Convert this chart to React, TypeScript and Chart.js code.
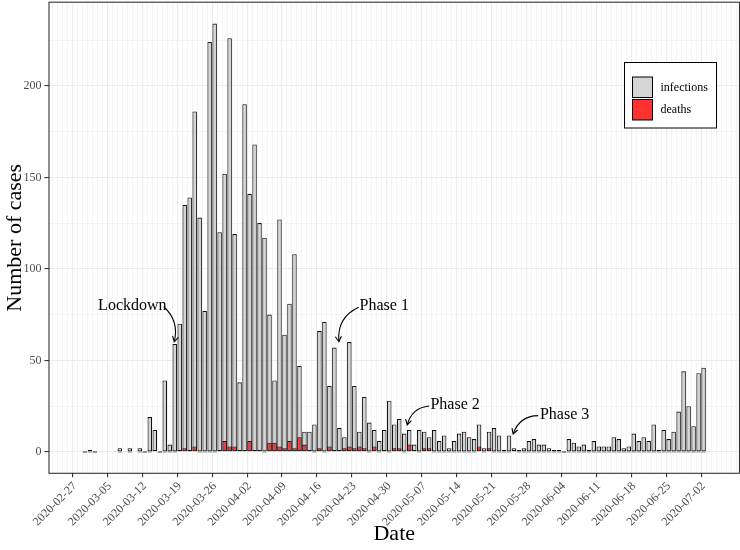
import React, { useEffect, useRef } from 'react';
import { Chart, registerables } from 'chart.js';

Chart.register(...registerables);

// Day 0 = 2020-02-27 ; one value per day (null = no bar)
const TICK_LABELS = [
  '2020-02-27', '2020-03-05', '2020-03-12', '2020-03-19', '2020-03-26', '2020-04-02',
  '2020-04-09', '2020-04-16', '2020-04-23', '2020-04-30', '2020-05-07', '2020-05-14',
  '2020-05-21', '2020-05-28', '2020-06-04', '2020-06-11', '2020-06-18', '2020-06-25',
  '2020-07-02',
];

const INFECTIONS: (number | null)[] = [
  null, null, 0, 1, 0, null, null,
  null, null, 2, null, 2, null, 2,
  0, 19, 12, 0, 39, 4, 59,
  70, 135, 139, 186, 128, 77, 224,
  234, 120, 152, 226, 119, 38, 190,
  141, 168, 125, 117, 75, 39, 127,
  64, 81, 108, 47, 11, 11, 15,
  66, 71, 36, 57, 13, 8, 60,
  36, 11, 30, 16, 12, 6, 12,
  28, 15, 18, 10, 12, 4, 12,
  11, 8, 12, 6, 9, 2, 6,
  10, 11, 8, 7, 15, 2, 11,
  13, 9, 1, 9, 2, 1, 2,
  6, 7, 4, 4, 2, 1, 1,
  0, 7, 5, 3, 4, 1, 6,
  3, 3, 3, 8, 7, 2, 3,
  10, 6, 8, 6, 15, 1, 12,
  7, 11, 22, 44, 25, 14, 43,
  46,
];

const DEATHS: (number | null)[] = [
  null, null, 0, 0, 0, null, null,
  null, null, 0, null, 0, null, 0,
  0, 0, 1, 0, 0, 0, 0,
  1, 2, 1, 3, 0, 0, 0,
  0, 1, 6, 3, 3, 1, 1,
  6, 1, 1, 0, 5, 5, 3,
  2, 6, 2, 8, 4, 1, 0,
  2, 0, 3, 1, 1, 2, 3,
  2, 3, 2, 0, 3, 0, 1,
  0, 2, 2, 0, 4, 1, 0,
  2, 2, 0, 0, 0, 0, 0,
  0, 0, 0, 0, 3, 0, 2,
  0, 0, 0, 0, 1, 0, 0,
  0, 0, 0, 0, 0, 0, 0,
  0, 0, 0, 0, 0, 0, 0,
  0, 0, 0, 0, 0, 0, 0,
  0, 0, 0, 0, 0, 0, 0,
  0, 0, 0, 0, 0, 0, 0,
  0,
];

const Y_MAJOR = [0, 50, 100, 150, 200];
const Y_MINOR = [25, 75, 125, 175, 225];

const SERIES = [
  { name: 'infections', values: INFECTIONS, fill: '#D5D5D5' },
  { name: 'deaths', values: DEATHS, fill: '#FF3030' },
];

// annotation: text position and curved arrow (start -> end), in (day, cases)
const ANNOTATIONS = [
  { label: 'Lockdown', tx: 11.5, ty: 80, x0: 17.8, y0: 79.3, x1: 19.9, y1: 60.2, curv: 0.3 },
  { label: 'Phase 1', tx: 62.0, ty: 79.7, x0: 56.85, y0: 79.0, x1: 52.9, y1: 60.2, curv: -0.35 },
  { label: 'Phase 2', tx: 76.2, ty: 25.6, x0: 71.0, y0: 25.1, x1: 66.6, y1: 14.7, curv: -0.35 },
  { label: 'Phase 3', tx: 98.15, ty: 20.5, x0: 92.86, y0: 19.8, x1: 87.83, y1: 9.8, curv: -0.35 },
];

const FONT = "'Liberation Serif', 'Times New Roman', serif";

export default function App() {
  const ref = useRef<HTMLCanvasElement | null>(null);

  useEffect(() => {
    if (!ref.current) return;

    const nonNull = INFECTIONS.map((v, i) => (v === null ? -1 : i)).filter((i) => i >= 0);
    const lo = nonNull[0] - 0.45;
    const hi = nonNull[nonNull.length - 1] + 0.45;
    const xMin = lo - 0.05 * (hi - lo);
    const xMax = hi + 0.05 * (hi - lo);
    const yTop = Math.max(...(INFECTIONS.filter((v) => v !== null) as number[]));
    const yMin = -0.05 * yTop;
    const yMax = yTop * 1.05;

    const panelPlugin = {
      id: 'panelExtras',
      afterDatasetsDraw(chart: any) {
        const { ctx, chartArea: a, scales } = chart;
        const xs = scales.x;
        const ys = scales.y;
        ctx.save();
        // annotations
        ctx.fillStyle = '#000';
        ctx.strokeStyle = '#000';
        ctx.font = `16px ${FONT}`;
        ctx.textAlign = 'center';
        ctx.textBaseline = 'middle';
        ANNOTATIONS.forEach((an) => {
          ctx.fillText(an.label, xs.getPixelForValue(an.tx), ys.getPixelForValue(an.ty));
          const sx = xs.getPixelForValue(an.x0);
          const sy = ys.getPixelForValue(an.y0);
          const ex = xs.getPixelForValue(an.x1);
          const ey = ys.getPixelForValue(an.y1);
          const dx = ex - sx;
          const dy = ey - sy;
          const cx = (sx + ex) / 2 + an.curv * dy;
          const cy = (sy + ey) / 2 - an.curv * dx;
          ctx.lineWidth = 1.1;
          ctx.beginPath();
          ctx.moveTo(sx, sy);
          ctx.quadraticCurveTo(cx, cy, ex, ey);
          ctx.stroke();
          const ang = Math.atan2(ey - cy, ex - cx);
          const L = 6;
          ctx.beginPath();
          ctx.moveTo(ex - L * Math.cos(ang - Math.PI / 6), ey - L * Math.sin(ang - Math.PI / 6));
          ctx.lineTo(ex, ey);
          ctx.lineTo(ex - L * Math.cos(ang + Math.PI / 6), ey - L * Math.sin(ang + Math.PI / 6));
          ctx.stroke();
        });
        // panel border
        ctx.strokeStyle = '#333333';
        ctx.lineWidth = 1.1;
        ctx.strokeRect(a.left, a.top, a.right - a.left, a.bottom - a.top);
        ctx.restore();
      },
      afterDraw(chart: any) {
        const { ctx } = chart;
        ctx.save();
        // legend box
        ctx.fillStyle = '#fff';
        ctx.fillRect(624, 62, 93, 66);
        ctx.strokeStyle = '#000';
        ctx.lineWidth = 1;
        ctx.strokeRect(624.5, 62.5, 92, 65.5);
        SERIES.forEach((s, i) => {
          const top = 77 + i * 22.5;
          ctx.fillStyle = s.fill;
          ctx.fillRect(632.5, top, 20, 20.5);
          ctx.strokeStyle = '#000';
          ctx.strokeRect(632.5, top, 20, 20.5);
          ctx.fillStyle = '#000';
          ctx.font = `12px ${FONT}`;
          ctx.textAlign = 'left';
          ctx.textBaseline = 'middle';
          ctx.fillText(s.name, 660.5, top + 10.5);
        });
        ctx.restore();
      },
    };

    const chart = new Chart(ref.current, {
      type: 'bar',
      data: {
        datasets: SERIES.map((s, i) => ({
          label: s.name,
          data: s.values.map((v, d) => ({ x: d, y: v })),
          backgroundColor: s.fill,
          borderColor: '#111',
          borderWidth: 1.1,
          borderSkipped: false,
          grouped: false,
          order: SERIES.length - i,
          barPercentage: 0.9,
          categoryPercentage: 1,
          minBarLength: 1,
        })) as any,
      },
      options: {
        animation: false,
        responsive: false,
        devicePixelRatio: 1,
        layout: { padding: { top: 2.2, right: 0.5, left: 0, bottom: 0 } },
        plugins: { legend: { display: false }, tooltip: { enabled: false } },
        scales: {
          x: {
            type: 'linear',
            min: xMin,
            max: xMax,
            afterBuildTicks: (scale: any) => {
              const t = [];
              for (let v = Math.ceil(xMin); v <= Math.floor(xMax); v++) t.push({ value: v });
              scale.ticks = t;
            },
            afterFit: (scale: any) => {
              scale.height = 76.7;
              scale.paddingLeft = 0;
              scale.paddingRight = 0;
              scale.paddingTop = 0;
              scale.paddingBottom = 0;
            },
            ticks: {
              autoSkip: false,
              minRotation: 45,
              maxRotation: 45,
              padding: 2,
              color: '#4D4D4D',
              font: { family: FONT, size: 12 },
              callback: (value: any) => {
                const v = Number(value);
                if (v >= 0 && v % 7 === 0 && v / 7 < TICK_LABELS.length) return TICK_LABELS[v / 7];
                return '';
              },
            },
            grid: {
              color: '#EBEBEB',
              lineWidth: (ctx: any) => (ctx.tick && ctx.tick.value % 7 === 0 ? 1.1 : 0.55),
              tickColor: (ctx: any) =>
                ctx.tick && ctx.tick.value % 7 === 0 && ctx.tick.value >= 0 && ctx.tick.value / 7 < TICK_LABELS.length
                  ? '#333333'
                  : 'rgba(0,0,0,0)',
              tickLength: 4,
              tickWidth: 1.1,
            },
            border: { display: false },
            title: {
              display: true,
              text: 'Date',
              color: '#000',
              font: { family: FONT, size: 22 },
              padding: { top: 0, bottom: 3 },
            },
          },
          y: {
            type: 'linear',
            min: yMin,
            max: yMax,
            afterBuildTicks: (scale: any) => {
              scale.ticks = [...Y_MAJOR, ...Y_MINOR].sort((a, b) => a - b).map((value) => ({ value }));
            },
            afterFit: (scale: any) => {
              scale.width = 49;
              scale.paddingLeft = 0;
              scale.paddingRight = 0;
              scale.paddingTop = 0;
              scale.paddingBottom = 0;
            },
            ticks: {
              padding: 3,
              color: '#4D4D4D',
              font: { family: FONT, size: 12 },
              callback: (value: any) => (Y_MAJOR.includes(Number(value)) ? String(value) : ''),
            },
            grid: {
              color: '#EBEBEB',
              lineWidth: (ctx: any) => (ctx.tick && Y_MAJOR.includes(ctx.tick.value) ? 1.1 : 0.55),
              tickColor: (ctx: any) => (ctx.tick && Y_MAJOR.includes(ctx.tick.value) ? '#333333' : 'rgba(0,0,0,0)'),
              tickLength: 4.5,
              tickWidth: 1.1,
            },
            border: { display: false },
            title: {
              display: true,
              text: 'Number of cases',
              color: '#000',
              font: { family: FONT, size: 22 },
              padding: { top: 2, bottom: 0 },
            },
          },
        },
      },
      plugins: [panelPlugin],
    });

    return () => chart.destroy();
  }, []);

  return (
    <div style={{ position: 'absolute', left: 0, top: 0, width: 740, height: 550, background: '#fff' }}>
      <canvas ref={ref} width={740} height={550} />
    </div>
  );
}
